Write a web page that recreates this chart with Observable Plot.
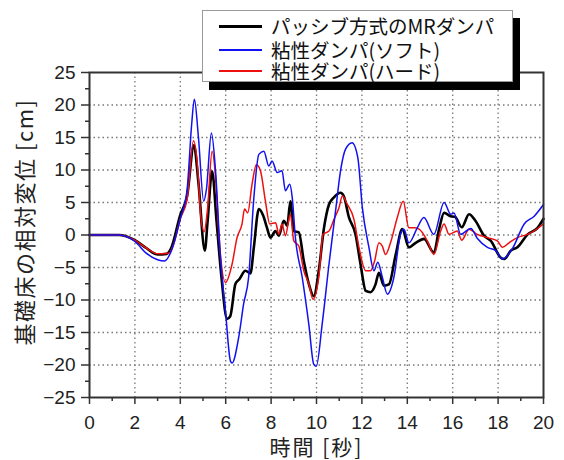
<!DOCTYPE html>
<html><head><meta charset="utf-8">
<script src="https://cdn.jsdelivr.net/npm/d3@7"></script>
<script src="https://cdn.jsdelivr.net/npm/@observablehq/plot@0.6"></script>
<style>
body{margin:0;background:#fff;}
#wrap{position:relative;width:564px;height:460px;}
#legend{position:absolute;left:202px;top:10px;width:311px;height:72px;box-sizing:border-box;border:1.5px solid #999;background:#fff;box-shadow:7px 8px 0 #000;font-family:"Noto Sans CJK JP",sans-serif;font-size:19.5px;color:#111;}
.sw{position:absolute;left:16px;width:43px;}
.lb{position:absolute;left:68px;white-space:nowrap;line-height:20px;height:20px;}
</style></head>
<body><div id="wrap"></div>
<script>
// series names
const seriesNames = ["パッシブ方式のMRダンパ", "粘性ダンパ(ソフト)", "粘性ダンパ(ハード)"];
const seriesColors = ["#000000", "#1010f0", "#ee1010"];
// [time (s), relative displacement (cm)]
const passiveMR = [[0,0],[1.3,0],[2,-0.8],[2.5,-2],[3,-3.0],[3.4,-2.9],[3.6,-2],[4,3.1],[4.3,6],[4.6,13.8],[4.8,8],[5.08,-2.4],[5.2,2],[5.4,9.8],[5.6,2],[5.8,-6],[6.06,-12.9],[6.2,-12.5],[6.43,-7.5],[6.6,-6.8],[6.87,-5.5],[7.09,-5.9],[7.24,-1.9],[7.46,4],[7.65,3],[7.82,1.1],[7.97,-0.4],[8.19,0.6],[8.34,-0.1],[8.56,2.2],[8.71,1.4],[8.85,5.2],[9.0,0.6],[9.22,0.4],[9.44,-4],[9.66,-7.5],[9.88,-9.4],[10.1,-5.5],[10.33,1.1],[10.55,4.7],[10.77,5.8],[11.06,6.5],[11.2,6.0],[11.43,2.7],[11.72,0.1],[11.94,-4.5],[12.17,-8.6],[12.38,-8.8],[12.6,-7.6],[12.75,-5.8],[12.97,-7.8],[13.19,-7.6],[13.49,-3],[13.78,0.9],[14.07,-1.9],[14.37,-1.2],[14.74,-0.6],[15.17,-2.7],[15.4,0.9],[15.62,3.4],[15.91,2.9],[16.1,2.8],[16.4,1.2],[16.72,3.2],[17.0,2.2],[17.38,-0.1],[17.68,-0.9],[18.12,-3.5],[18.27,-3.7],[18.56,-2.4],[18.85,-1.9],[19.3,0.1],[19.74,1.1],[20,2.5]];
const viscousSoft = [[0,0],[1.3,0],[2,-1],[2.5,-2.8],[3,-3.8],[3.3,-4],[3.6,-2.5],[4,2.5],[4.3,7],[4.5,17],[4.62,20.9],[4.8,15],[5.03,5.2],[5.15,7],[5.37,15.7],[5.55,10],[5.77,-3.5],[5.99,-11.7],[6.21,-19.4],[6.28,-19.7],[6.57,-15.8],[6.79,-10.6],[7.01,-6.5],[7.24,5.7],[7.46,12.4],[7.68,12.9],[7.9,10.6],[8.04,11.4],[8.27,9.6],[8.48,9.9],[8.63,6.8],[8.82,7.8],[8.93,5.8],[9.07,-0.4],[9.37,-6.5],[9.66,-13.7],[9.88,-19.9],[9.99,-20.2],[10.25,-13.7],[10.55,-4.5],[10.84,3.7],[11.06,9.9],[11.28,13.2],[11.57,14.2],[11.82,11.9],[12.02,4.2],[12.31,-1.9],[12.53,-5.5],[12.7,-4.2],[12.9,-6.5],[13.12,-9.1],[13.41,-6.5],[13.7,0.1],[13.85,0.9],[14.07,-1.2],[14.44,1.1],[14.73,2.7],[15.17,0.1],[15.62,5.0],[15.91,3.2],[16.06,3.4],[16.35,0.1],[16.8,1.0],[17.08,-0.5],[17.53,-1.9],[17.9,-2.4],[18.19,-3.7],[18.63,-2.1],[19.15,1.7],[19.59,2.9],[20,4.7]];
const viscousHard = [[0,0],[1.3,0],[2,-0.8],[2.5,-2],[3,-2.9],[3.5,-2.8],[3.7,-1.5],[4,2.5],[4.3,5.5],[4.58,14.5],[4.75,11],[4.9,3],[5.05,0.5],[5.2,4],[5.4,12.9],[5.55,9],[5.7,0],[5.99,-7.3],[6.28,-4.5],[6.5,-0.4],[6.72,1.7],[6.83,4.0],[6.97,3.4],[7.16,7.8],[7.35,10.8],[7.53,9.9],[7.75,5.2],[7.94,1.7],[8.2,1.9],[8.34,0.1],[8.48,1.7],[8.63,-0.1],[8.85,3.2],[9.0,-0.9],[9.22,-1.7],[9.44,-5.5],[9.66,-7.5],[9.85,-9.9],[10.1,-6.5],[10.29,0.1],[10.55,0.6],[10.77,2.4],[10.99,4.2],[11.14,6.0],[11.36,4.7],[11.65,2.4],[11.87,-1.9],[12.17,-5.5],[12.38,-5.5],[12.56,-4.0],[12.75,-1.2],[12.9,-1.7],[13.04,-3.0],[13.26,-1.2],[13.56,2.7],[13.82,5.2],[14.07,1.1],[14.3,1.1],[14.52,0.9],[14.88,-0.9],[15.17,-3.0],[15.47,0.6],[15.62,1.7],[15.84,0.1],[16.2,0.6],[16.4,-0.8],[16.72,0.9],[17.08,0.1],[17.53,-0.4],[17.97,-0.9],[18.19,-1.9],[18.48,-1.2],[18.85,-0.4],[19.3,0.1],[19.74,1.0],[20,1.7]];
// tick labels
const xTicks = [0,2,4,6,8,10,12,14,16,18,20];
const xMinorTicks = [1,3,5,7,9,11,13,15,17,19];
const yTicks = [-25,-20,-15,-10,-5,0,5,10,15,20,25];
const yMinorTicks = [-22.5,-17.5,-12.5,-7.5,-2.5,2.5,7.5,12.5,17.5,22.5];
const xGrid = [2,4,6,8,10,12,14,16,18];
const yGrid = [-20,-15,-10,-5,0,5,10,15,20];
const xTitle = "時間 [秒]";
const yTitle = "基礎床の相対変位 [cm]";

const toRows = arr => arr.map(([t, v]) => ({t, v}));
const dataSets = [passiveMR, viscousSoft, viscousHard].map(toRows);
const widths = [2.6, 1.5, 1.5];
const drawOrder = [0, 2, 1];

const gridStyle = {stroke: "#777", strokeOpacity: 1, strokeDasharray: "1.5,3", strokeWidth: 1.3};
const plot = Plot.plot({
  width: 564, height: 460,
  marginLeft: 89, marginRight: 21, marginTop: 72, marginBottom: 63,
  x: {domain: [0, 20]},
  y: {domain: [-25, 25]},
  style: {fontFamily: "'Liberation Sans', Arial, sans-serif", fontSize: "19px", color: "#222", background: "#fff", overflow: "visible"},
  marks: [
    Plot.gridX(xGrid, gridStyle),
    Plot.gridY(yGrid, gridStyle),
    Plot.axisX(xMinorTicks, {tickSize: 4, tickFormat: () => "", label: null, stroke: "#333", strokeWidth: 1.5}),
    Plot.axisX(xTicks, {tickSize: 7, tickPadding: 11, label: null, stroke: "#333", strokeWidth: 1.5, fill: "#222"}),
    Plot.axisY(yMinorTicks, {tickSize: 4, tickFormat: () => "", label: null, stroke: "#333", strokeWidth: 1.5}),
    Plot.axisY(yTicks, {tickSize: 8, tickPadding: 6, label: null, stroke: "#333", strokeWidth: 1.5, fill: "#222"}),
    ...drawOrder.map(i => Plot.line(dataSets[i], {x: "t", y: "v", stroke: seriesColors[i], strokeWidth: widths[i], curve: "monotone-x"})),
    Plot.frame({stroke: "#333", strokeWidth: 2}),
    Plot.text([xTitle], {frameAnchor: "bottom", textAnchor: "middle", lineAnchor: "middle", dy: 51, fontSize: 21, fontFamily: "'Noto Sans CJK JP'", fill: "#222"}),
    Plot.text([yTitle], {frameAnchor: "left", textAnchor: "middle", lineAnchor: "middle", rotate: -90, dx: -64, dy: -13, fontSize: 22, fontFamily: "'Noto Sans CJK JP'", fill: "#222"})
  ]
});
d3.select(plot).selectAll("text").filter(function(){ return this.textContent === xTitle; }).attr("letter-spacing", 2);
d3.select(plot).selectAll("text").filter(function(){ return this.textContent === yTitle; }).attr("letter-spacing", 1.5);

const wrap = document.getElementById("wrap");
wrap.appendChild(plot);

// legend overlay
const legend = document.createElement("div");
legend.id = "legend";
const rowCenters = [15.2, 38.5, 60.2];
seriesNames.forEach((name, i) => {
  const sw = document.createElement("div");
  sw.className = "sw";
  sw.style.top = (rowCenters[i] - widths[i] / 2) + "px";
  sw.style.height = (i === 0 ? 3 : 2) + "px";
  sw.style.background = seriesColors[i];
  legend.appendChild(sw);
  const lb = document.createElement("div");
  lb.className = "lb";
  lb.style.top = (rowCenters[i] - 10) + "px";
  lb.textContent = name;
  legend.appendChild(lb);
});
wrap.appendChild(legend);
</script>
</body></html>
